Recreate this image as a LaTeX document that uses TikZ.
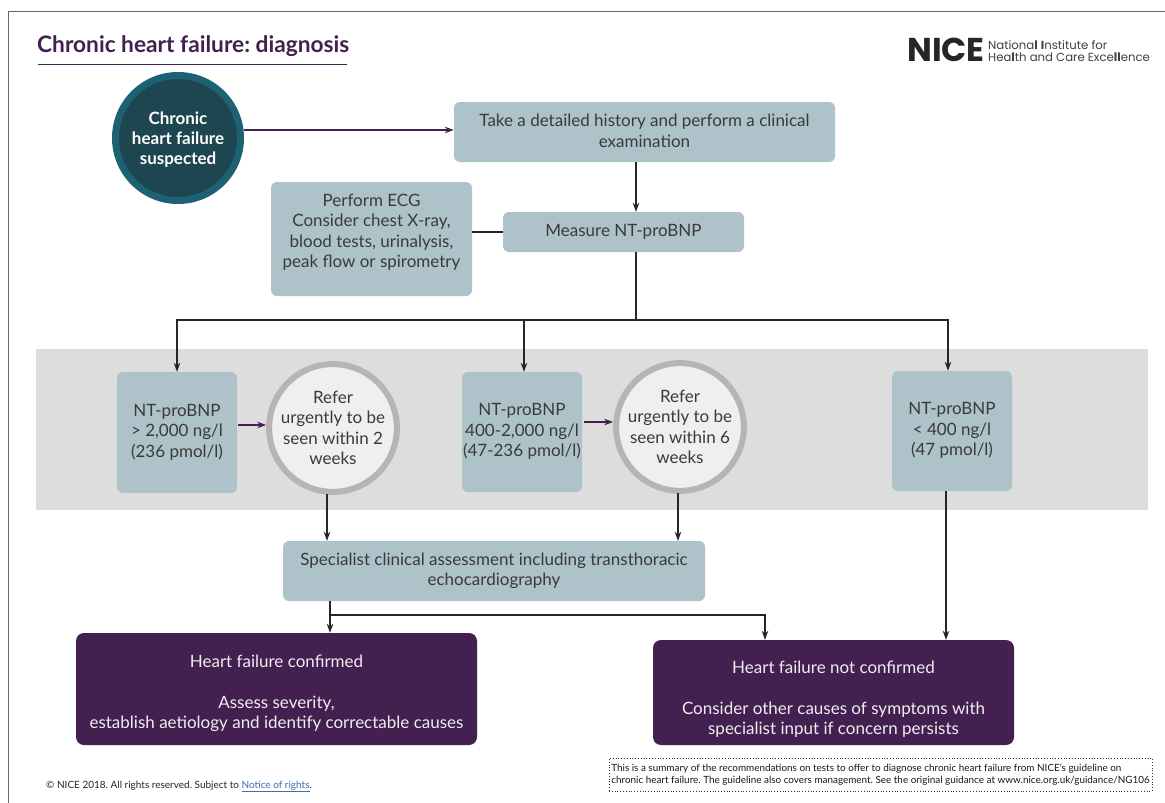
\documentclass[tikz,border=0pt]{standalone}
\usepackage{fontspec}
\usepackage{tikz}
\usetikzlibrary{arrows.meta}
\setmainfont{Lato}
\newfontfamily\nicefont{Poppins}
\definecolor{niceplum}{HTML}{43204F}
\definecolor{niceblue}{HTML}{ADC3C9}
\definecolor{niceink}{HTML}{3A3A3A}
\definecolor{nicedeep}{HTML}{1E4650}
\definecolor{nicering}{HTML}{1C6272}
\definecolor{nicegrey}{HTML}{B8B4B4}
\definecolor{nicepale}{HTML}{EFEFEF}
\definecolor{niceband}{HTML}{DDDDDD}
\definecolor{nicelink}{HTML}{3E6DA8}
\tikzstyle{infobox}=[fill=niceblue,rounded corners=6pt,text=niceink,align=center,font=\fontsize{17}{20.5}\selectfont,inner sep=0pt]
\tikzstyle{resultbox}=[fill=niceplum,rounded corners=8pt,text=white!92!niceplum,align=center,font=\fontsize{17}{20.5}\selectfont,inner sep=0pt]
\tikzstyle{startcircle}=[circle,draw=nicering,line width=7pt,fill=nicedeep,minimum size=125pt,inner sep=0pt,text=white,align=center,font=\fontsize{17}{20}\selectfont\bfseries]
\tikzstyle{refercircle}=[circle,draw=nicegrey,line width=6pt,fill=nicepale,minimum size=126pt,inner sep=0pt,text=niceink,align=center,font=\fontsize{17}{20.5}\selectfont]
\tikzstyle{flow}=[-{Stealth[length=9pt,width=6.5pt]},line width=1.1pt,draw=black!85]
\tikzstyle{plumflow}=[-{Stealth[length=9pt,width=6.5pt]},line width=1.3pt,draw=niceplum]
\tikzstyle{plainline}=[line width=1.1pt,draw=black!85]

\begin{document}
\frenchspacing
\begin{tikzpicture}[x=1pt,y=-1pt]
\useasboundingbox (0,0) rectangle (1165,803);
\fill[white] (0,0) rectangle (1165,803);
\draw[line width=1pt,draw=black!60] (8,803) -- (8,11) -- (1165,11);
\fill[niceband] (36,349) rectangle (1148,510);

% heading
\node [anchor=base west,inner sep=0pt,text=niceplum,font=\fontsize{22.7}{26}\selectfont\bfseries] (title) at (37,52) {Chronic heart failure: diagnosis};
\draw [line width=1pt,draw=niceplum] (38,64) -- (347,64);
\node [anchor=base west,inner sep=0pt,text=black!85,font=\fontsize{33}{34}\nicefont\bfseries] (nice) at (907,61) {NICE};
\node [anchor=west,inner sep=0pt,align=left,text=black!75,font=\fontsize{11.7}{12.5}\nicefont] (nicename) at (988,51) {Nationa\textbf{l} \textbf{I}nstitute for\\Hea\textbf{l}th and Care Exce\textbf{ll}ence};

% top of the flow
\node [startcircle] (start) at (178,138) {\mbox{}\\[-5pt]Chronic\\heart failure\\suspected};
\node [infobox,minimum width=381pt,minimum height=60pt] (history) at (644.5,132) {Take a detailed history and perform a clinical\\examination\\[-18pt]};
\node [infobox,minimum width=201pt,minimum height=114pt] (ecg) at (371.5,239) {Perform ECG\\Consider chest X-ray,\\blood tests, urinalysis,\\peak flow or spirometry\\[-4.5pt]};
\node [infobox,minimum width=241pt,minimum height=40pt] (measure) at (623.5,232) {Measure NT-proBNP};
\coordinate (trunk) at (636,320);

% grey band
\node [infobox,minimum width=120pt,minimum height=121pt] (high) at (177,432.5) {NT-proBNP\\> 2,000 ng/l\\(236 pmol/l)\\[-17pt]};
\node [refercircle] (refertwo) at (333,428) {Refer\\urgently to be\\seen within 2\\weeks};
\node [infobox,minimum width=120pt,minimum height=120pt] (mid) at (522,432) {NT-proBNP\\400-2,000 ng/l\\(47-236 pmol/l)\\[-17pt]};
\node [refercircle] (refersix) at (680,427) {Refer\\urgently to be\\seen within 6\\weeks};
\node [infobox,minimum width=120pt,minimum height=120pt] (low) at (952,431) {NT-proBNP\\< 400 ng/l\\(47 pmol/l)\\[-17pt]};

% bottom of the flow
\node [infobox,minimum width=422pt,minimum height=60pt] (specialist) at (494,571) {Specialist clinical assessment including transthoracic\\echocardiography};
\node [resultbox,minimum width=401pt,minimum height=112pt] (confirmed) at (276.5,689) {\mbox{}\\[1pt]Heart failure confirmed\\[20.5pt]Assess severity,\\establish aetiology and identify correctable causes};
\node [resultbox,minimum width=361pt,minimum height=105pt] (notconfirmed) at (833.5,692.5) {\mbox{}\\[5pt]Heart failure not confirmed\\[20.5pt]Consider other causes of symptoms with\\specialist input if concern persists};

% footer
\node [anchor=base west,inner sep=0pt,text=black!85,font=\fontsize{10}{11}\selectfont] (rights) at (46,788) {© NICE 2018. All rights reserved. Subject to \textcolor{nicelink}{\underline{Notice of rights}}.};
\node [draw=black!80,dotted,line width=0.8pt,minimum width=543pt,minimum height=33pt,inner sep=0pt,align=left,text=black!90,font=\fontsize{9.9}{12.5}\selectfont] (summary) at (880.5,774.5) {This is a summary of the recommendations on tests to offer to diagnose chronic heart failure from NICE's guideline on\\chronic heart failure. The guideline also covers management. See the original guidance at www.nice.org.uk/guidance/NG106};

% connectors
\draw [plumflow] (start.7) -- (start.7 -| history.west);
\draw [flow] (history.south -| trunk) -- (measure.north -| trunk);
\draw [plainline] (ecg.east |- measure.west) -- (measure.west);
\draw [plainline] (measure.south -| trunk) -- (trunk);
\coordinate (branchhigh) at (177,320);
\coordinate (branchmid) at (524,320);
\coordinate (branchlow) at (948,320);
\draw [flow] (trunk) -- (branchhigh) -- (high.north);
\draw [flow] (branchmid) -- (branchmid |- mid.north);
\draw [flow] (trunk) -- (branchlow) -- (branchlow |- low.north);
\coordinate (arrowhigh) at (238,425);
\coordinate (arrowmid) at (584,422);
\draw [plumflow] (arrowhigh) -- (arrowhigh -| refertwo.west);
\draw [plumflow] (arrowmid) -- (arrowmid -| refersix.west);
\coordinate (downtwo) at (327,494);
\coordinate (downsix) at (678,493);
\draw [flow] (downtwo) -- (downtwo |- specialist.north);
\draw [flow] (downsix) -- (downsix |- specialist.north);
\coordinate (split) at (330,615);
\coordinate (splitright) at (765,615);
\draw [flow] (split |- specialist.south) -- (split |- confirmed.north);
\draw [flow] (split) -- (splitright) -- (splitright |- notconfirmed.north);
\coordinate (lowdown) at (946,491);
\draw [flow] (lowdown) -- (lowdown |- notconfirmed.north);
\end{tikzpicture}
\end{document}
